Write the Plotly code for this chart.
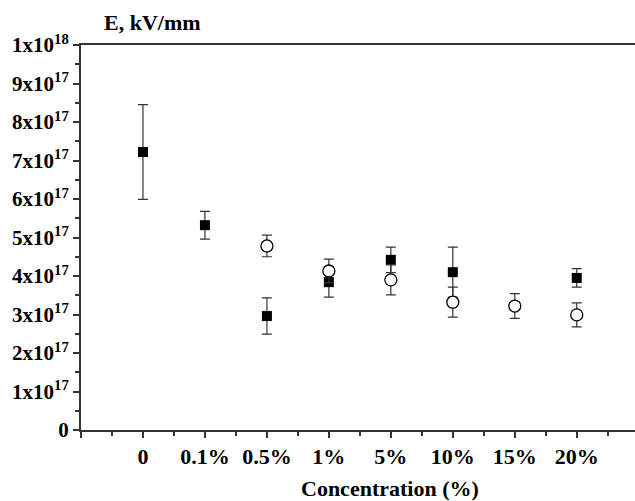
import plotly.graph_objects as go

categories = ["0", "0.1%", "0.5%", "1%", "5%", "10%", "15%", "20%"]

# Filled squares series (x index, value, error)
sq_x = [0, 1, 2, 3, 4, 5, 7]
sq_y = [7.22e17, 5.32e17, 2.96e17, 3.84e17, 4.42e17, 4.10e17, 3.95e17]
sq_err = [1.23e17, 0.36e17, 0.47e17, 0.39e17, 0.33e17, 0.65e17, 0.24e17]

# Open circles series
ci_x = [2, 3, 4, 5, 6, 7]
ci_y = [4.78e17, 4.13e17, 3.90e17, 3.32e17, 3.22e17, 2.99e17]
ci_err = [0.28e17, 0.31e17, 0.39e17, 0.39e17, 0.32e17, 0.31e17]

y_tickvals = [i * 1e17 for i in range(11)]
y_ticktext = ["0"] + [f"{i}x10<sup>17</sup>" for i in range(1, 10)] + ["1x10<sup>18</sup>"]

FONT = "Liberation Serif"

fig = go.Figure()
fig.add_trace(go.Scatter(
    x=sq_x, y=sq_y, mode="markers",
    marker=dict(symbol="square", size=10, color="black"),
    error_y=dict(type="data", array=sq_err, color="#333", thickness=1.2, width=5),
    showlegend=False,
))
fig.add_trace(go.Scatter(
    x=ci_x, y=ci_y, mode="markers",
    marker=dict(symbol="circle", size=12, color="white", line=dict(color="black", width=1.3)),
    error_y=dict(type="data", array=ci_err, color="#333", thickness=1.2, width=5),
    showlegend=False,
))

fig.update_layout(
    width=635, height=501,
    margin=dict(l=81, r=0, t=45, b=71),
    paper_bgcolor="white", plot_bgcolor="white",
    font=dict(family=FONT, size=21, color="black"),
    xaxis=dict(
        range=[-1, 7.94],
        tickmode="array",
        tickvals=[-1] + list(range(len(categories))) + [8],
        ticktext=[""] + categories + [""],
        ticks="outside", ticklen=6, tickwidth=1.5, tickcolor="#333",
        showline=True, linecolor="#333", linewidth=2, mirror=True,
        showgrid=False, zeroline=False,
        tickfont=dict(family=FONT, size=22, color="black", weight="bold"),
        minor=dict(tickmode="array", tickvals=[i + 0.5 for i in range(-1, 8)],
                   ticks="outside", ticklen=4, tickwidth=1.5, tickcolor="#333"),
    ),
    yaxis=dict(
        range=[0, 1e18],
        tickmode="array",
        tickvals=y_tickvals, ticktext=y_ticktext,
        ticks="outside", ticklen=6, tickwidth=1.5, tickcolor="#333",
        showline=True, linecolor="#333", linewidth=2,
        showgrid=False, zeroline=False,
        tickfont=dict(family=FONT, size=21, color="black", weight="bold"),
        minor=dict(tickmode="array", tickvals=[(i + 0.5) * 1e17 for i in range(10)],
                   ticks="outside", ticklen=4, tickwidth=1.5, tickcolor="#333"),
    ),
    annotations=[
        dict(text="<b>E, kV/mm</b>", xref="paper", yref="paper",
             x=(152 - 81) / 554, y=1 + 23 / 385, xanchor="center", yanchor="middle",
             showarrow=False, font=dict(family=FONT, size=22, color="black")),
        dict(text="<b>Concentration (%)</b>", xref="paper", yref="paper",
             x=(390 - 81) / 554, y=-58 / 385, xanchor="center", yanchor="middle",
             showarrow=False, font=dict(family=FONT, size=22, color="black")),
    ],
)

fig.write_html("out.html")
